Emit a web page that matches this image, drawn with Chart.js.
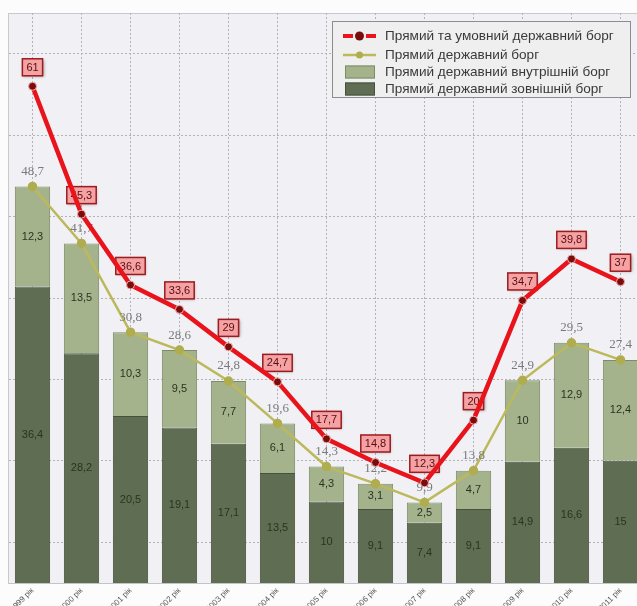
<!DOCTYPE html>
<html>
<head>
<meta charset="utf-8">
<script src="https://cdn.jsdelivr.net/npm/chart.js@4/dist/chart.umd.min.js"></script>
<style>
html, body { margin: 0; padding: 0; background: #fcfcfd; overflow: hidden; }
#wrap { width: 637px; height: 606px; overflow: hidden; }
</style>
</head>
<body>
<div id="wrap"><canvas id="myChart" width="652" height="606"></canvas></div>
<script>
var roky = ['1999 рік', '2000 рік', '2001 рік', '2002 рік', '2003 рік', '2004 рік', '2005 рік',
            '2006 рік', '2007 рік', '2008 рік', '2009 рік', '2010 рік', '2011 рік'];
var pryamyiUmovnyi = [61, 45.3, 36.6, 33.6, 29, 24.7, 17.7, 14.8, 12.3, 20, 34.7, 39.8, 37];
var pryamyi = [48.7, 41.7, 30.8, 28.6, 24.8, 19.6, 14.3, 12.2, 9.9, 13.8, 24.9, 29.5, 27.4];
var vnutrishnii = [12.3, 13.5, 10.3, 9.5, 7.7, 6.1, 4.3, 3.1, 2.5, 4.7, 10, 12.9, 12.4];
var zovnishnii = [36.4, 28.2, 20.5, 19.1, 17.1, 13.5, 10, 9.1, 7.4, 9.1, 14.9, 16.6, 15];
var nazvy = ['Прямий та умовний державний борг', 'Прямий державний борг',
             'Прямий державний внутрішній борг', 'Прямий державний зовнішній борг'];
var liniiY = [5, 15, 25, 35, 45, 55, 65];

function koma(v) { return String(v).replace('.', ','); }

var fon = {
    id: 'fon',
    beforeDraw: function (chart) {
        var c = chart.ctx, a = chart.chartArea;
        c.save();
        c.fillStyle = '#fcfcfd';
        c.fillRect(0, 0, chart.width, chart.height);
        c.fillStyle = '#f1f0f4';
        c.fillRect(a.left, a.top, a.right - a.left, a.bottom - a.top);
        c.strokeStyle = '#c9c9cc';
        c.lineWidth = 1;
        c.beginPath();
        c.moveTo(a.left, a.top + 0.5);
        c.lineTo(a.right, a.top + 0.5);
        c.stroke();
        c.restore();
    }
};

var pidpysy = {
    id: 'pidpysy',
    beforeDatasetDraw: function (chart, args) {
        if (args.meta.label !== nazvy[0]) return;
        var c = chart.ctx;
        c.save();
        c.font = '11px "Liberation Sans", Arial, sans-serif';
        c.textAlign = 'center';
        c.textBaseline = 'middle';
        args.meta.data.forEach(function (el, i) {
            var t = koma(pryamyiUmovnyi[i]);
            var w = c.measureText(t).width + 8, h = 17;
            var x = el.x, y = el.y - 19;
            c.shadowColor = 'rgba(0,0,0,0.35)';
            c.shadowBlur = 3;
            c.shadowOffsetX = 1;
            c.shadowOffsetY = 1;
            c.fillStyle = '#f4a2a4';
            c.fillRect(x - w / 2, y - h / 2, w, h);
            c.shadowColor = 'transparent';
            c.strokeStyle = '#9c1b1f';
            c.lineWidth = 1.5;
            c.strokeRect(x - w / 2, y - h / 2, w, h);
            c.fillStyle = '#5a0c0c';
            c.fillText(t, x, y + 0.5);
        });
        c.restore();
    },
    afterDatasetDraw: function (chart, args) {
        var c = chart.ctx, m = args.meta;
        c.save();
        c.textAlign = 'center';
        c.textBaseline = 'middle';
        if (m.label === nazvy[1]) {
            c.font = '13px "Liberation Serif", "Times New Roman", serif';
            c.fillStyle = '#7a7a7a';
            m.data.forEach(function (el, i) {
                c.fillText(koma(pryamyi[i]), el.x, el.y - 15);
            });
        } else if (m.label === nazvy[2] || m.label === nazvy[3]) {
            var vals = m.label === nazvy[2] ? vnutrishnii : zovnishnii;
            c.font = '11px "Liberation Sans", Arial, sans-serif';
            c.fillStyle = '#2b3322';
            m.data.forEach(function (el, i) {
                c.fillText(koma(vals[i]), el.x, (el.y + el.base) / 2);
            });
        }
        c.restore();
    },
    afterDraw: function (chart) {
        var c = chart.ctx;
        var bx = 332, by = 21, bw = 298, bh = 76;
        c.save();
        c.fillStyle = '#efefef';
        c.fillRect(bx, by, bw, bh);
        c.strokeStyle = '#8c8c8c';
        c.lineWidth = 1;
        c.strokeRect(bx + 0.5, by + 0.5, bw, bh);
        var rows = [36, 55, 72, 89];
        // червона лінія
        c.strokeStyle = '#e8131b';
        c.lineWidth = 4;
        c.beginPath();
        c.moveTo(343, rows[0]); c.lineTo(353, rows[0]);
        c.moveTo(366, rows[0]); c.lineTo(376, rows[0]);
        c.stroke();
        c.fillStyle = '#7b0c0c';
        c.beginPath(); c.arc(359.5, rows[0], 4.5, 0, Math.PI * 2); c.fill();
        // оливкова лінія
        c.strokeStyle = '#bcb95c';
        c.lineWidth = 2.5;
        c.beginPath(); c.moveTo(343, rows[1]); c.lineTo(376, rows[1]); c.stroke();
        c.fillStyle = '#b0ad4e';
        c.beginPath(); c.arc(359.5, rows[1], 3.5, 0, Math.PI * 2); c.fill();
        // квадрати
        c.lineWidth = 1;
        c.fillStyle = '#a5b38c'; c.strokeStyle = '#7d8c68';
        c.fillRect(345, rows[2] - 6.5, 30, 13); c.strokeRect(345.5, rows[2] - 6, 29, 12);
        c.fillStyle = '#5f6e52'; c.strokeStyle = '#46523c';
        c.fillRect(345, rows[3] - 6.5, 30, 13); c.strokeRect(345.5, rows[3] - 6, 29, 12);
        c.font = '13.6px "Liberation Sans", Arial, sans-serif';
        c.fillStyle = '#3a3a3a';
        c.textAlign = 'left';
        c.textBaseline = 'middle';
        for (var i = 0; i < 4; i++) c.fillText(nazvy[i], 385, rows[i] + 0.5);
        c.restore();
    }
};

var ctx = document.getElementById('myChart').getContext('2d');
var chart = new Chart(ctx, {
    type: 'bar',
    data: {
        labels: roky,
        datasets: [{
            label: nazvy[3],
            data: zovnishnii,
            stack: 'bars',
            order: 3,
            backgroundColor: '#5f6e52',
            borderColor: '#46523c',
            borderWidth: 1,
            barPercentage: 0.72,
            categoryPercentage: 1
        }, {
            label: nazvy[2],
            data: vnutrishnii,
            stack: 'bars',
            order: 3,
            backgroundColor: '#a5b38c',
            borderColor: '#7d8c68',
            borderWidth: 1,
            barPercentage: 0.72,
            categoryPercentage: 1
        }, {
            type: 'line',
            label: nazvy[1],
            data: pryamyi,
            stack: 'olive',
            order: 1,
            borderColor: '#bcb95c',
            borderWidth: 2.5,
            pointRadius: 3.5,
            pointBackgroundColor: '#b0ad4e',
            pointBorderColor: '#b0ad4e',
            tension: 0
        }, {
            type: 'line',
            label: nazvy[0],
            data: pryamyiUmovnyi,
            stack: 'red',
            order: 0,
            borderColor: '#e8131b',
            borderWidth: 4.5,
            pointRadius: 4,
            pointBackgroundColor: '#7b0c0c',
            pointBorderColor: '#f3b0b0',
            pointBorderWidth: 1,
            tension: 0
        }]
    },
    options: {
        responsive: false,
        animation: false,
        layout: { padding: { top: 13, left: 8, right: 7, bottom: 0 } },
        plugins: { legend: { display: false }, tooltip: { enabled: false } },
        scales: {
            x: {
                stacked: true,
                grid: { offset: false, drawTicks: false, color: '#b3b3b6', lineWidth: 1 },
                border: { display: true, color: '#c4c4c8', dash: [2, 2] },
                ticks: {
                    minRotation: 45, maxRotation: 45, padding: 3,
                    color: '#555', font: { size: 8, family: '"Liberation Sans", Arial, sans-serif' }
                },
                afterFit: function (s) { s.height = 23; }
            },
            y: {
                stacked: true,
                min: 0, max: 70,
                afterBuildTicks: function (s) {
                    s.ticks = liniiY.map(function (v) { return { value: v }; });
                },
                grid: { drawTicks: false, color: '#b3b3b6', lineWidth: 1 },
                border: { display: true, color: '#c9c9cc', dash: [2, 2] },
                ticks: { display: false }
            }
        }
    },
    plugins: [fon, pidpysy]
});
</script>
</body>
</html>
